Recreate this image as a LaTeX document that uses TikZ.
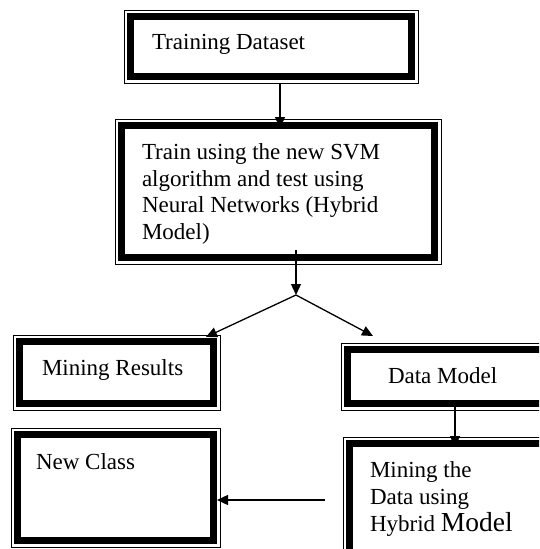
\documentclass[tikz,border=0pt]{standalone}
\usepackage{fontspec}
\setmainfont{Liberation Serif}
\usetikzlibrary{arrows.meta,calc}
\begin{document}
\begin{tikzpicture}[x=1pt,y=-1pt,
  fbox/.style={draw=black, line width=0.9pt, rectangle, inner sep=0pt, outer sep=0pt,
    path picture={\draw[line width=6.8pt] ([shift={(6.4pt,-6.4pt)}]path picture bounding box.north west) rectangle ([shift={(-6.4pt,6.4pt)}]path picture bounding box.south east);}},
  txt/.style={inner sep=0pt, outer sep=0pt, font=\fontsize{23}{26.5}\selectfont},
  arr/.style={-{Triangle[length=11pt,width=10pt]}, line width=1.3pt}]
\useasboundingbox (0,0) rectangle (539,549);
\clip (0,0) rectangle (539,549);
\fill[white] (0,0) rectangle (539,549);
% boxes
\node[fbox, minimum width=294pt, minimum height=73pt] (train) at (271,46.5) {};
\node[fbox, minimum width=326pt, minimum height=145pt] (hybrid) at (278,191.5) {};
\node[fbox, minimum width=207pt, minimum height=75pt] (mres) at (116.5,372.5) {};
\node[fbox, minimum width=214pt, minimum height=67pt] (dmodel) at (448,376.5) {};
\node[fbox, minimum width=209pt, minimum height=119pt] (newc) at (115.5,487.5) {};
\node[fbox, minimum width=212pt, minimum height=133pt] (mdata) at (449,503.5) {};
% texts
\node[txt, anchor=base west] (t1) at (152,49) {Training Dataset};
\node[txt, anchor=north west, align=left] (t2) at (142,144) {Train using the new SVM\\algorithm and test using\\Neural Networks (Hybrid\\Model)};
\node[txt, anchor=base west] (t3) at (42,375) {Mining Results};
\node[txt, anchor=base west] (t4) at (388,383) {Data Model};
\node[txt, anchor=base west] (t5) at (36,469) {New Class};
\node[txt, anchor=north west, align=left, font=\fontsize{23}{27}\selectfont] (t6) at (370,462) {Mining the\\Data using\\Hybrid {\fontsize{27.5}{27}\selectfont Model}};
% connectors
\coordinate (c1) at (280,0);
\draw[arr, shorten >=-9pt] (train.south -| c1) -- (hybrid.north -| c1);
\coordinate (split) at (296,295);
\draw[arr, shorten <=-14pt] (hybrid.south -| split) -- (split);
\draw[arr] (split) -- ([shift={(-14pt,-2pt)}]mres.north east);
\draw[arr] (split) -- ([shift={(32pt,7pt)}]dmodel.north west);
\coordinate (c5) at (455,0);
\draw[arr, shorten <=-5pt, shorten >=-10pt] (dmodel.south -| c5) -- (mdata.north -| c5);
\coordinate (h0) at (325,500);
\draw[arr, shorten >=-3pt] (h0) -- (newc.east |- h0);
\end{tikzpicture}
\end{document}
